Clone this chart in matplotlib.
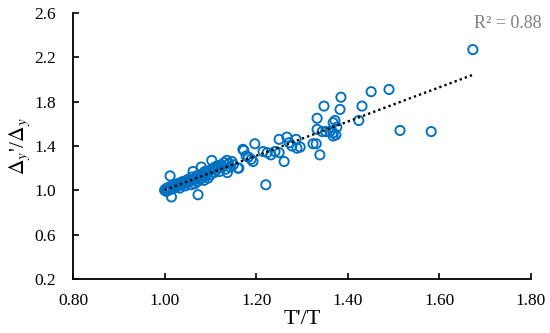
import matplotlib
matplotlib.use("Agg")
import matplotlib.pyplot as plt
import numpy as np

# T'/T ratio and drift ratio
t_ratio = [1.000, 1.002, 1.004, 1.005, 1.008, 1.010, 1.012, 1.014, 1.015, 1.017,
           1.020, 1.022, 1.025, 1.028, 1.030, 1.033, 1.035, 1.038, 1.040, 1.043,
           1.045, 1.048, 1.050, 1.052, 1.055, 1.058, 1.060, 1.062, 1.064, 1.066,
           1.068, 1.070, 1.072, 1.073, 1.075, 1.078, 1.080, 1.082, 1.084, 1.086,
           1.088, 1.090, 1.093, 1.095, 1.098, 1.100, 1.103, 1.105, 1.108, 1.110,
           1.112, 1.115, 1.118, 1.120, 1.123, 1.126, 1.130, 1.133, 1.136, 1.137,
           1.140, 1.143, 1.147, 1.150, 1.160, 1.162, 1.171, 1.173, 1.178, 1.183,
           1.189, 1.193, 1.197, 1.215, 1.221, 1.224, 1.232, 1.241, 1.250, 1.250,
           1.261, 1.267, 1.272, 1.278, 1.287, 1.289, 1.296, 1.324, 1.331, 1.333,
           1.333, 1.339, 1.344, 1.348, 1.352, 1.361, 1.368, 1.368, 1.368, 1.372,
           1.374, 1.376, 1.383, 1.385, 1.424, 1.431, 1.451, 1.490, 1.514, 1.582,
           1.673]
d_ratio = [1.00, 1.01, 0.99, 1.02, 1.00, 1.03, 1.13, 1.01, 0.94, 1.04,
           1.02, 1.05, 1.03, 1.06, 1.04, 1.02, 1.07, 1.05, 1.08, 1.06,
           1.04, 1.09, 1.07, 1.10, 1.08, 1.05, 1.12, 1.17, 1.09, 1.06,
           1.11, 1.13, 1.08, 0.96, 1.14, 1.10, 1.21, 1.12, 1.15, 1.09,
           1.17, 1.13, 1.16, 1.11, 1.18, 1.14, 1.27, 1.19, 1.16, 1.21,
           1.18, 1.22, 1.20, 1.17, 1.23, 1.21, 1.25, 1.19, 1.27, 1.16,
           1.24, 1.21, 1.26, 1.23, 1.20, 1.20, 1.37, 1.36, 1.31, 1.30,
           1.28, 1.26, 1.42, 1.35, 1.05, 1.34, 1.32, 1.35, 1.34, 1.46,
           1.26, 1.48, 1.43, 1.40, 1.46, 1.38, 1.39, 1.42, 1.42, 1.65,
           1.55, 1.32, 1.53, 1.76, 1.53, 1.53, 1.52, 1.49, 1.61, 1.63,
           1.50, 1.57, 1.73, 1.84, 1.63, 1.76, 1.89, 1.91, 1.54, 1.53,
           2.27]

x_ticks = [0.80, 1.00, 1.20, 1.40, 1.60, 1.80]
y_ticks = [0.2, 0.6, 1.0, 1.4, 1.8, 2.2, 2.6]
r2_label = "R² = 0.88"

plt.rcParams['font.family'] = ['Liberation Serif', 'DejaVu Serif']
plt.rcParams['mathtext.fontset'] = 'stix'

fig = plt.figure(figsize=(5.5, 3.33), dpi=100)
ax = fig.add_axes([0.1327, 0.1622, 0.8328, 0.7988])

x = np.array(t_ratio)
y = np.array(d_ratio)
ax.scatter(x, y, s=44, facecolors='none', edgecolors='#0070C0', linewidths=1.35, zorder=3)

# linear trend line
k, b = np.polyfit(x, y, 1)
xl = np.array([x.min(), x.max()])
ax.plot(xl, k * xl + b, color='black', linestyle=(0, (1, 1.3)), linewidth=1.7, zorder=4)

ax.set_xlim(0.80, 1.80)
ax.set_ylim(0.2, 2.6)
ax.set_xticks(x_ticks)
ax.set_yticks(y_ticks)
ax.set_xticklabels(["%.2f" % v for v in x_ticks])
ax.set_yticklabels(["%.1f" % v for v in y_ticks])
ax.tick_params(direction='in', length=4, width=1.2, labelsize=12.5)
ax.tick_params(axis='x', pad=10)
ax.tick_params(axis='y', pad=12)

for s in ['top', 'right']:
    ax.spines[s].set_visible(False)
for s in ['left', 'bottom']:
    ax.spines[s].set_linewidth(1.3)

ax.set_xlabel("T'/T", fontsize=16, labelpad=1)
ax.set_ylabel(r"$\Delta_y$'/$\Delta_y$", fontsize=15.5, labelpad=2)

fig.text(0.984, 0.928, r2_label, color='#808080', fontsize=13, ha='right', va='center')

fig.savefig("out.png", dpi=100)
